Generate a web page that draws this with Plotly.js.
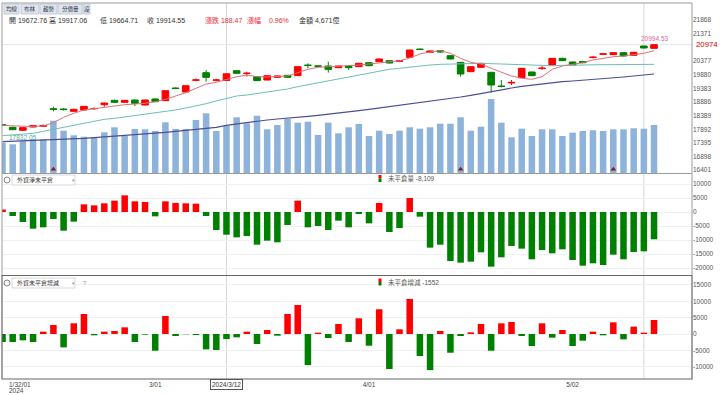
<!DOCTYPE html>
<html><head><meta charset="utf-8">
<script src="https://cdn.plot.ly/plotly-3.0.1.min.js"></script>
<style>html,body{margin:0;padding:0;background:#fff;}#chart{width:720px;height:395px;}</style>
</head><body><div id="chart"></div>
<script>
// ---- data (TAIEX daily, 65 trading days) ----
const openP = [18060,17963,17854,17975,18000,18640,18630,18546,18595,18640,18789,18947,18874,18959,18777,18996,18935,19395,19251,19680,19955,19680,19672.76,20028,19925,19809,19688,19785,19858,19846,20230,20200,20198,20137,20198,20174,20320,20356,20393,20375,20514,20815,20696,20757,20575,20332,19992,20150,19967,19470,19580,19773,19980,20105,20235,20477,20344,20360,20505,20625,20611,20684,20587,20927,20842];
const highP = [18080,17990,17965,18040,18070,18716,18660,18640,18740,18690,18860,18970,18960,18980,18975,19010,19310,19420,19490,19740,20052,19730,19917.06,20050,19990,19830,19860,19850,19870,20185,20295,20235,20356,20210,20210,20310,20335,20470,20410,20415,20790,20840,20760,20770,20590,20345,20185,20310,19985,19688,19688,20125,19995,20198,20490,20500,20360,20380,20555,20665,20695,20695,20710,20940,20994.53];
const lowP = [18010,17860,17832.05,17960,17975,18546,18580,18530,18580,18600,18716,18850,18860,18740,18760,18880,18920,19360,19240,19640,19627,19640,19664.71,19910,19810,19650,19670,19770,19770,19835,20113,20160,19955,20125,20052,20160,20195,20340,20290,20345,20500,20780,20680,20695,20440,19810,19980,20140,19226,19420,19505,19760,19830,20052,20220,20380,20220,20295,20480,20605,20600,20550,20575,20840,20830];
const closeP = [18040,17878,17951,18024,18030,18620,18610,18619,18728,18650,18850,18874,18947,18838,18959,18899,19299,19380,19481,19690,19785,19688,19914.55,19931,19935,19664,19846,19834,19785,20174,20220,20190,20077,20198,20137,20295,20210,20453,20307,20385,20781,20800,20745,20708,20453,19907,20174,20295,19506,19450,19600,20113,19846,20120,20477,20392,20235,20320,20520,20640,20684,20563,20696,20854,20974];
const volume = [2992,2834,3160,3328,3328,5165,4177,3723,3585,3525,4019,4513,3654,4345,4315,4148,5007,4345,4345,5234,5895,4148,4671,5500,4908,5658,4315,4740,5333,4967,5066,3753,4967,3920,4513,4839,3654,4177,3851,4177,4513,4375,4513,4868,4868,5500,4177,4572,7308,4967,3525,4375,3654,4315,4315,3654,3980,4148,4217,4148,4315,4315,4414,4375,4740];
const ma5 = [18037,18012,18001,18001,18012,18132,18329,18474,18595,18642,18693,18740,18788,18813,18839,18897,18985,19105,19225,19385,19542,19604,19713,19808,19870,19808,19797,19808,19834,19954,20078,20151,20173,20173,20198,20234,20271,20318,20344,20391,20489,20635,20708,20756,20661,20479,20333,20271,20114,19969,19834,19750,19713,19808,20078,20198,20245,20318,20417,20489,20537,20562,20610,20661,20756];
const ma20 = [17659,17684,17708,17744,17817,17890,17963,18036,18109,18182,18255,18291,18340,18376,18425,18473,18522,18595,18668,18740,18825,18923,19020,19105,19141,19190,19238,19287,19360,19445,19518,19591,19664,19736,19809,19882,19955,20028,20077,20113,20162,20198,20235,20259,20271,20283,20295,20295,20283,20271,20247,20235,20222,20210,20210,20222,20235,20235,20247,20247,20247,20247,20259,20259,20259];
const ma60 = [17441,17453,17465,17477,17489,17514,17526,17538,17562,17587,17611,17635,17659,17684,17708,17744,17781,17817,17854,17890,17927,17963,18036,18085,18157,18194,18230,18267,18291,18327,18364,18400,18437,18473,18522,18570,18619,18668,18716,18765,18801,18850,18898,18959,19008,19068,19129,19202,19263,19325,19396,19457,19506,19554,19591,19627,19651,19676,19700,19737,19761,19797,19834,19870,19907];
const foreignOI = [900,-1430,-3570,-5950,-5470,-2500,-6670,-3450,2740,2380,3100,4050,5950,3810,3570,-1550,3810,3210,3100,2980,-1430,-6430,-8109,-9050,-8570,-11670,-10240,-10830,-4640,4050,-5470,-5000,-6430,-3100,-5470,-700,-4050,3210,-7140,-5710,5000,-1670,-12740,-11670,-17500,-18090,-17740,-14400,-19520,-16190,-12140,-13090,-16900,-13570,-14760,-13330,-17140,-19170,-18330,-18930,-15240,-16900,-14290,-14050,-9750];
const oiChange = [-2450,-2450,-1940,-2450,720,2760,-4090,3270,6130,-400,720,920,2040,-2450,-200,-5110,5520,-610,-100,-300,-4700,-4900,-1552,-1020,720,-3070,1230,-510,6130,8890,-9510,400,-1230,3070,-2450,4810,-3580,7570,-10730,1430,10730,-6750,-11040,920,-5730,-610,510,3070,-5110,3270,3680,-610,-3680,3270,-1120,1230,-3680,-2040,720,-400,3580,-1640,2250,400,4290];
const signalIdx = [5, 45, 60];
const tickVals = [15, 36, 56];
const tickText = ['3/01', '4/01', '5/02'];
const priceTicks = [16401,16898,17395,17892,18389,18886,19383,19880,20377,21371,21868];
const oiTicks = [-20000,-15000,-10000,-5000,0,5000,10000];
const chgTicks = [-10000,-5000,0,5000,10000,15000];
const crossIdx = 22, markIdx = 63;
const lastClose = 20974;
const highMark = 20994.53, lowMark = 17832.05;

// ---- layout helpers (pixel -> paper) ----
const W = 720, H = 395, ML = 2, MR = 28, MT = 3, MB = 16;
const pw = W - ML - MR, ph = H - MT - MB;
const px = x => (x - ML) / pw;
const py = y => (H - MB - y) / ph;

const idx = openP.map((_, i) => i);
const RED = '#ff0000', GREEN = '#008000';
const FONT = 'Liberation Sans, Noto Sans CJK TC, sans-serif';

const traces = [
  {type:'bar', x: idx, y: volume, yaxis:'y', xaxis:'x', width:0.64,
   marker:{color:'#8db3da', line:{width:0}}, hoverinfo:'skip'},
  {type:'scatter', mode:'lines', x: idx, y: ma60, yaxis:'y2', line:{color:'#4b4d96', width:1.2}},
  {type:'scatter', mode:'lines', x: idx, y: ma20, yaxis:'y2', line:{color:'#6bbfb5', width:1}},
  {type:'scatter', mode:'lines', x: idx, y: ma5, yaxis:'y2', line:{color:'#d9737c', width:1}},
  {type:'candlestick', x: idx, open: openP, high: highP, low: lowP, close: closeP, yaxis:'y2',
   increasing:{line:{color:RED, width:1}, fillcolor:RED},
   decreasing:{line:{color:GREEN, width:1}, fillcolor:GREEN}, whiskerwidth:0},
  {type:'scatter', mode:'markers', x: signalIdx, y: signalIdx.map(() => 16440), yaxis:'y2',
   marker:{symbol:'triangle-up', size:5, color:'#8b1c1c'}},
  {type:'bar', x: idx, y: foreignOI, yaxis:'y3', width:0.64,
   marker:{color: foreignOI.map(v => v >= 0 ? RED : GREEN), line:{width:0}}},
  {type:'bar', x: idx, y: oiChange, yaxis:'y4', width:0.64,
   marker:{color: oiChange.map(v => v >= 0 ? RED : GREEN), line:{width:0}}}
];

const tf = {family: FONT, size: 6.5, color: '#555'};
const shapes = [
  {type:'line', xref:'x', yref:'paper', x0:crossIdx, x1:crossIdx, y0:0, y1:1, line:{color:'#d4d8de', width:1}, layer:'below'},
  {type:'line', xref:'x', yref:'paper', x0:markIdx, x1:markIdx, y0:0, y1:1, line:{color:'#d4d8de', width:1}, layer:'below'},
  {type:'line', xref:'paper', yref:'y2', x0:0, x1:1, y0:lastClose, y1:lastClose, line:{color:'#dfe4ec', width:1}, layer:'below'},
  {type:'rect', xref:'paper', yref:'paper', x0:0, x1:1, y0:py(173.5), y1:1, line:{color:'#9a9a9a', width:1}},
  {type:'rect', xref:'paper', yref:'paper', x0:0, x1:1, y0:py(275.5), y1:py(173.5), line:{color:'#9a9a9a', width:1}},
  {type:'rect', xref:'paper', yref:'paper', x0:0, x1:1, y0:0, y1:py(275.5), line:{color:'#666', width:1.2}},
  ...[[4,19],[21,39],[40,57],[58,82],[83,90]].map(([a,b]) => ({type:'rect', xref:'paper', yref:'paper',
    x0:px(a), x1:px(b), y0:py(14), y1:py(4), fillcolor:'#dfe5ee', line:{color:'#b9c2ce', width:0.8}})),
  {type:'rect', xref:'paper', yref:'paper', x0:px(12), x1:px(75), y0:py(185), y1:py(175), fillcolor:'#fff', line:{color:'#cfcfcf', width:0.8}},
  {type:'rect', xref:'paper', yref:'paper', x0:px(12), x1:px(75), y0:py(288), y1:py(278), fillcolor:'#fff', line:{color:'#cfcfcf', width:0.8}},
  {type:'circle', xref:'paper', yref:'paper', x0:px(4), x1:px(10), y0:py(183), y1:py(177), line:{color:'#888', width:1}},
  {type:'circle', xref:'paper', yref:'paper', x0:px(4), x1:px(10), y0:py(286), y1:py(280), line:{color:'#888', width:1}},
  {type:'rect', xref:'paper', yref:'paper', x0:px(378.5), x1:px(381.5), y0:py(178.5), y1:py(175), fillcolor:RED, line:{width:0}},
  {type:'rect', xref:'paper', yref:'paper', x0:px(378.5), x1:px(381.5), y0:py(182), y1:py(178.5), fillcolor:GREEN, line:{width:0}},
  {type:'rect', xref:'paper', yref:'paper', x0:px(378.5), x1:px(381.5), y0:py(282), y1:py(278.5), fillcolor:RED, line:{width:0}},
  {type:'rect', xref:'paper', yref:'paper', x0:px(378.5), x1:px(381.5), y0:py(285.5), y1:py(282), fillcolor:GREEN, line:{width:0}}
];

function txt(x, y, text, opts = {}) {
  return Object.assign({xref:'paper', yref:'paper', x: px(x), y: py(y), text, showarrow:false,
    xanchor:'left', yanchor:'middle', font:{family:FONT, size:7, color:'#333'}}, opts);
}
const btnFont = {family:FONT, size:5.5, color:'#334'};
const annotations = [
  txt(11.5, 9, '均線', {xanchor:'center', font:btnFont}),
  txt(30, 9, '布林', {xanchor:'center', font:btnFont}),
  txt(48.5, 9, '趨勢', {xanchor:'center', font:btnFont}),
  txt(70, 9, '分價量', {xanchor:'center', font:btnFont}),
  txt(86.5, 9, '設', {xanchor:'center', font:btnFont}),
  txt(6.5, 20.5, '開 19672.76'),
  txt(46.5, 20.5, '高 19917.06'),
  txt(98, 20.5, '低 19664.71'),
  txt(145, 20.5, '收 19914.55'),
  txt(202.5, 20.5, '漲跌 188.47', {font:{family:FONT, size:7, color:'#e8303a'}}),
  txt(245, 20.5, '漲幅', {font:{family:FONT, size:7, color:'#e8303a'}}),
  txt(266.5, 20.5, '0.96%', {font:{family:FONT, size:7, color:'#e8303a'}}),
  txt(296.5, 20.5, '金額 4,671億'),
  txt(15, 180, '外資淨未平倉', {font:{family:FONT, size:6, color:'#333'}}),
  txt(70, 180, '▾', {font:{family:FONT, size:5, color:'#999'}}),
  txt(15, 283, '外資未平倉增減', {font:{family:FONT, size:6, color:'#333'}}),
  txt(70, 283, '▾', {font:{family:FONT, size:5, color:'#999'}}),
  txt(80.5, 283, '?', {font:{family:FONT, size:6, color:'#999'}}),
  txt(386, 178.5, '未平倉量 -8,109', {font:{family:FONT, size:6.5, color:'#555'}}),
  txt(386, 282, '未平倉增減 -1552', {font:{family:FONT, size:6.5, color:'#555'}}),
  txt(6.5, 384.5, '1/32/01', {font:{family:FONT, size:6.5, color:'#444'}}),
  txt(6.5, 390.5, '2024', {font:{family:FONT, size:6.5, color:'#444'}}),
  {xref:'x', yref:'paper', x:crossIdx, y:py(384.5), text:'2024/3/12', showarrow:false, xanchor:'center', yanchor:'middle',
   font:{family:FONT, size:6.5, color:'#333'}, bgcolor:'#fff', bordercolor:'#555', borderwidth:1, borderpad:1},
  {xref:'paper', yref:'y2', x:1, y:lastClose, text:'20974', showarrow:false, xanchor:'left', yanchor:'middle', xshift:2,
   font:{family:FONT, size:7.8, color:'#e00000'}},
  {xref:'x', yref:'y2', x:64, y:highMark, text:'20994.53', showarrow:false, xanchor:'center', yanchor:'bottom', yshift:0,
   font:{family:FONT, size:6.5, color:'#e066a0'}},
  {xref:'x', yref:'y2', x:2, y:lowMark, text:'17832.05', showarrow:false, xanchor:'center', yanchor:'top', yshift:-1,
   font:{family:FONT, size:6.5, color:'#5aa59c'}}
];

const layout = {
  width: W, height: H, margin:{l:ML, r:MR, t:MT, b:MB, pad:0},
  paper_bgcolor:'#fff', plot_bgcolor:'#fff', showlegend:false, bargap:0.36, boxgap:0.35, boxgroupgap:0,
  font:{family:FONT, size:7, color:'#444'},
  xaxis:{range:[-0.05, 67.73], anchor:'y4', tickvals: tickVals, ticktext: tickText, ticks:'', showgrid:false,
         zeroline:false, showline:false, rangeslider:{visible:false}, tickfont:{family:FONT, size:6.5, color:'#444'}},
  yaxis:{domain:[py(173), 1], range:[0, 16788], visible:false, fixedrange:true, anchor:'x'},
  yaxis2:{overlaying:'y', side:'right', anchor:'x', range:[16299, 22494], tickvals: priceTicks,
          ticktext: priceTicks.map(String), ticks:'', showgrid:false, zeroline:false, tickfont: tf},
  yaxis3:{domain:[py(275), py(174)], anchor:'x', side:'right', range:[-22500, 13571], tickvals: oiTicks,
          ticktext: oiTicks.map(String), ticks:'', showgrid:true, gridcolor:'#eef0f4', zeroline:false, tickfont: tf},
  yaxis4:{domain:[0, py(276)], anchor:'x', side:'right', range:[-13770, 17748], tickvals: chgTicks,
          ticktext: chgTicks.map(String), ticks:'', showgrid:true, gridcolor:'#eef0f4', zeroline:false, tickfont: tf},
  shapes, annotations
};
Plotly.newPlot('chart', traces, layout, {displayModeBar:false, staticPlot:true});
</script></body></html>
